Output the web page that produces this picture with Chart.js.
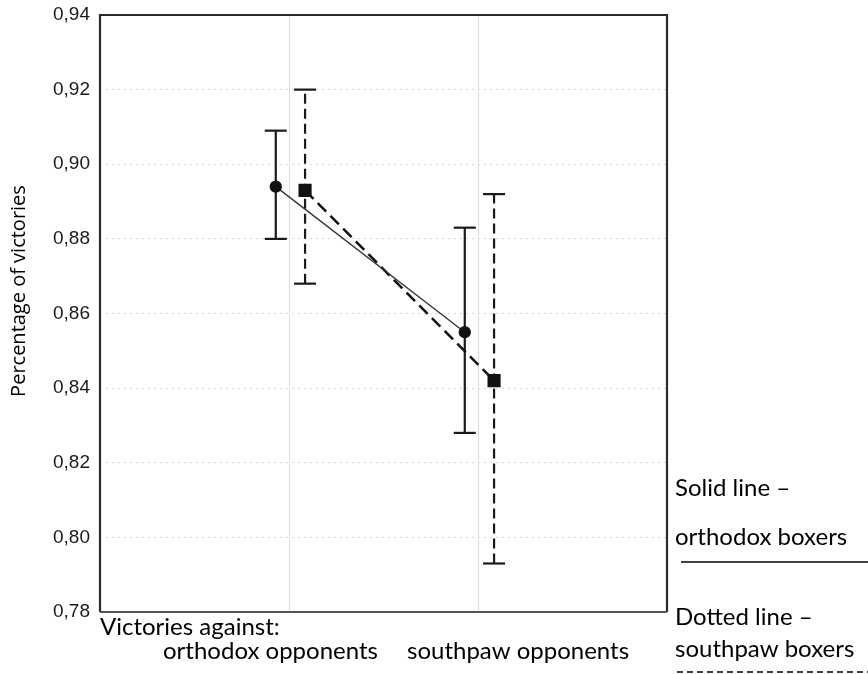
<!DOCTYPE html>
<html>
<head>
<meta charset="utf-8">
<script src="https://cdn.jsdelivr.net/npm/chart.js@4/dist/chart.umd.min.js"></script>
<style>
  body { margin: 0; background: #fff; }
  #wrap { width: 868px; height: 674px; }
</style>
</head>
<body>
<div id="wrap"><canvas id="myChart" width="868" height="674"></canvas></div>
<script>
// values
const categories = ['orthodox opponents', 'southpaw opponents'];
const categoryPos = [1, 2];

const orthodoxMean = [0.894, 0.855];
const orthodoxLow = [0.880, 0.828];
const orthodoxHigh = [0.909, 0.883];

const southpawMean = [0.893, 0.842];
const southpawLow = [0.868, 0.793];
const southpawHigh = [0.920, 0.892];

const yTicks = [0.78, 0.80, 0.82, 0.84, 0.86, 0.88, 0.90, 0.92, 0.94];

// small side shift so the two groups do not overlap
const orthodoxShift = -0.07;
const southpawShift = 0.085;

const labelFont = 'Lato, "Noto Sans", sans-serif';

function meanPoints(means, shift) {
  return means.map((v, i) => ({ x: categoryPos[i] + shift, y: v }));
}

function errorBars(low, high, shift, dash) {
  return low.map((lo, i) => ({
    data: [
      { x: categoryPos[i] + shift, y: lo },
      { x: categoryPos[i] + shift, y: high[i] }
    ],
    borderColor: '#1a1a1a',
    borderWidth: 2.2,
    borderDash: dash,
    pointStyle: 'line',
    pointRadius: 11,
    pointBorderWidth: 2.2,
    pointBorderColor: '#1a1a1a',
    order: 2
  }));
}

const datasets = [
  {
    label: 'orthodox boxers',
    data: meanPoints(orthodoxMean, orthodoxShift),
    borderColor: '#333',
    borderWidth: 1.3,
    pointStyle: 'circle',
    pointRadius: 5.5,
    pointBackgroundColor: '#111',
    pointBorderColor: '#111',
    order: 1
  },
  {
    label: 'southpaw boxers',
    data: meanPoints(southpawMean, southpawShift),
    borderColor: '#111',
    borderWidth: 2.5,
    borderDash: [12, 6],
    pointStyle: 'rect',
    pointRadius: 7.5,
    pointBackgroundColor: '#111',
    pointBorderColor: '#111',
    order: 1
  }
].concat(
  errorBars(orthodoxLow, orthodoxHigh, orthodoxShift, []),
  errorBars(southpawLow, southpawHigh, southpawShift, [10, 5])
);

// frame round the plot and the loose texts of the figure
const figureText = {
  id: 'figureText',
  afterDraw(chart) {
    const ctx = chart.ctx;
    const a = chart.chartArea;
    ctx.save();

    ctx.strokeStyle = '#2a2a2a';
    ctx.lineWidth = 2.2;
    ctx.beginPath();
    ctx.moveTo(a.left, a.bottom);
    ctx.lineTo(a.left, a.top);
    ctx.lineTo(a.right, a.top);
    ctx.lineTo(a.right, a.bottom);
    ctx.stroke();
    ctx.strokeStyle = '#555';
    ctx.lineWidth = 2;
    ctx.beginPath();
    ctx.moveTo(a.left, a.bottom);
    ctx.lineTo(a.right, a.bottom);
    ctx.stroke();

    ctx.fillStyle = '#000';
    ctx.textBaseline = 'alphabetic';

    // y axis title, a little above the middle like the original
    ctx.save();
    ctx.translate(25, 291);
    ctx.rotate(-Math.PI / 2);
    ctx.textAlign = 'center';
    ctx.font = '20px "Open Sans", sans-serif';
    ctx.fillText('Percentage of victories', 0, 0);
    ctx.restore();

    ctx.textAlign = 'left';
    ctx.font = '24px ' + labelFont;
    ctx.fillText('Victories against:', a.left, a.bottom + 23);
    ctx.fillText(categories[0], 163, a.bottom + 47);
    ctx.fillText(categories[1], 407, a.bottom + 47);

    ctx.fillText('Solid line \u2013', 675, 496);
    ctx.fillText('orthodox boxers', 675, 545);
    ctx.fillText('Dotted line \u2013', 675, 625);
    ctx.fillText('southpaw boxers', 675, 657);

    ctx.strokeStyle = '#444';
    ctx.lineWidth = 2;
    ctx.beginPath();
    ctx.moveTo(681, 562);
    ctx.lineTo(868, 562);
    ctx.stroke();
    ctx.setLineDash([6, 4]);
    ctx.beginPath();
    ctx.moveTo(677, 672);
    ctx.lineTo(868, 672);
    ctx.stroke();

    ctx.restore();
  }
};

const config = {
  type: 'line',
  data: { datasets: datasets },
  options: {
    responsive: false,
    animation: false,
    layout: { padding: { top: 15, right: 201, bottom: 0, left: 0 } },
    plugins: {
      legend: { display: false },
      tooltip: { enabled: false }
    },
    scales: {
      x: {
        type: 'linear',
        min: 0,
        max: 3,
        afterBuildTicks: (s) => { s.ticks = categoryPos.map(v => ({ value: v })); },
        afterFit: (s) => { s.height = 62; s.paddingLeft = 0; s.paddingRight = 0; },
        ticks: { display: false },
        grid: { color: '#dcdcdc', lineWidth: 1, drawTicks: false },
        border: { display: false }
      },
      y: {
        min: 0.78,
        max: 0.94,
        afterBuildTicks: (s) => { s.ticks = yTicks.map(v => ({ value: v })); },
        afterFit: (s) => { s.width = 100; s.paddingTop = 0; s.paddingBottom = 0; },
        ticks: {
          padding: 10,
          color: '#1a1a1a',
          font: { family: '"Liberation Sans", Arial, sans-serif', size: 19 },
          callback: (v) => v.toFixed(2).replace('.', ',')
        },
        grid: { color: '#d8d8d8', lineWidth: 1, drawTicks: false },
        border: { display: false, dash: [2, 4] }
      }
    }
  },
  plugins: [figureText]
};

var myChart = new Chart(document.getElementById('myChart').getContext('2d'), config);
</script>
</body>
</html>
